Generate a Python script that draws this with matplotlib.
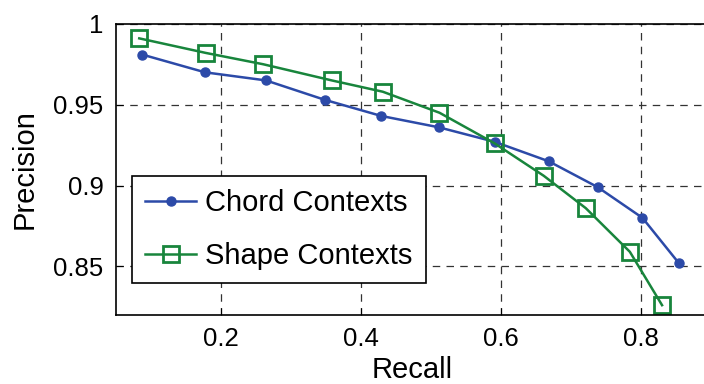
import matplotlib.pyplot as plt

plt.rcParams['font.family'] = ['Liberation Sans', 'DejaVu Sans']

# Precision/recall curves
chord_recall = [0.087, 0.177, 0.264, 0.348, 0.429, 0.511, 0.591, 0.668, 0.738, 0.802, 0.854]
chord_precision = [0.981, 0.970, 0.965, 0.953, 0.943, 0.936, 0.927, 0.915, 0.899, 0.880, 0.852]
shape_recall = [0.083, 0.178, 0.260, 0.358, 0.431, 0.512, 0.591, 0.661, 0.721, 0.784, 0.830]
shape_precision = [0.991, 0.982, 0.975, 0.965, 0.958, 0.945, 0.926, 0.906, 0.886, 0.859, 0.826]
xticks = [0.2, 0.4, 0.6, 0.8]
yticks = [0.85, 0.9, 0.95, 1.0]
ytick_labels = ['0.85', '0.9', '0.95', '1']

fig = plt.figure(figsize=(7.04, 3.84), dpi=100)
ax = fig.add_axes([0.165, 0.18, 0.845, 0.758])

ax.plot(chord_recall, chord_precision, color='#2c4aa8', linewidth=1.8,
        marker='o', markersize=6.5, label='Chord Contexts')
ax.plot(shape_recall, shape_precision, color='#18853c', linewidth=1.8,
        marker='s', markersize=11, markerfacecolor='none', markeredgewidth=2,
        label='Shape Contexts')

ax.set_xlim(0.05, 0.9)
ax.set_ylim(0.82, 1.0)
ax.set_xticks(xticks)
ax.set_yticks(yticks)
ax.set_yticklabels(ytick_labels)
ax.tick_params(direction='in', labelsize=18.5, length=5, pad=9)
ax.grid(True, color='#333333', linestyle=(0, (6, 5)), linewidth=0.9)
for s in ax.spines.values():
    s.set_linewidth(1.2)

ax.set_xlabel('Recall', fontsize=21)
ax.set_ylabel('Precision', fontsize=21)
ax.xaxis.set_label_coords(0.497, -0.14)
ax.yaxis.set_label_coords(-0.131, 0.5)

leg = ax.legend(loc='lower left', bbox_to_anchor=(0.027, 0.11), borderaxespad=0,
                fontsize=21, fancybox=False, framealpha=1, edgecolor='black',
                handlelength=1.75, handletextpad=0.3, borderpad=0.45,
                labelspacing=0.85)
leg.get_frame().set_linewidth(1.2)

fig.savefig('out.png', dpi=100)
